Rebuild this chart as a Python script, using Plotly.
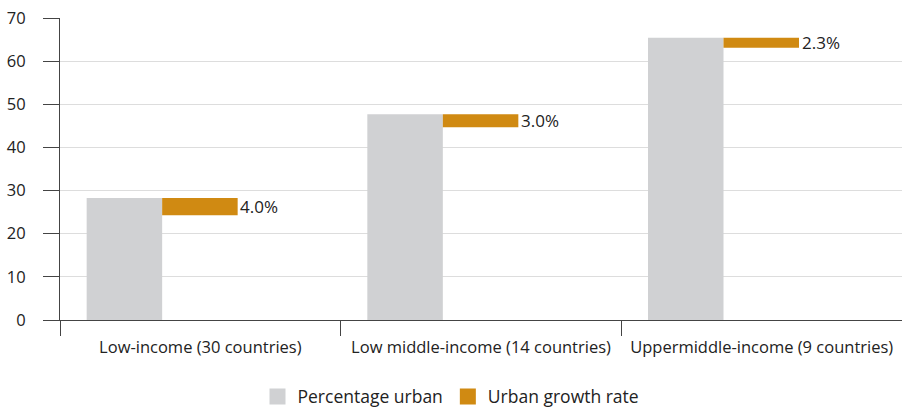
import plotly.graph_objects as go

categories = ["Low-income (30 countries)", "Low middle-income (14 countries)", "Uppermiddle-income (9 countries)"]
pct_urban = [28.3, 47.7, 65.4]
growth_rate = [4.0, 3.0, 2.3]
y_ticks = [0, 10, 20, 30, 40, 50, 60, 70]

GRAY = "#D0D1D3"
ORANGE = "#D08A12"
FONT = "Open Sans"
TXT = "#222222"

fig = go.Figure()
fig.add_trace(go.Bar(
    x=categories, y=pct_urban, name="Percentage urban",
    marker=dict(color=GRAY, line=dict(width=0)),
    width=0.269, offset=-0.405, showlegend=False,
))
fig.add_trace(go.Bar(
    x=categories, y=growth_rate,
    base=[u - g for u, g in zip(pct_urban, growth_rate)],
    name="Urban growth rate",
    marker=dict(color=ORANGE, line=dict(width=0)),
    width=0.269, offset=-0.136, showlegend=False,
))
# legend entries (square swatches)
for name, col in [("Percentage urban", GRAY), ("Urban growth rate", ORANGE)]:
    fig.add_trace(go.Scatter(
        x=[None], y=[None], mode="markers", name=name,
        marker=dict(symbol="square", size=16, color=col, line=dict(width=0)),
        showlegend=True,
    ))

for c, u, g in zip(categories, pct_urban, growth_rate):
    fig.add_annotation(
        x=c, y=u - g / 2, xref="x", yref="y",
        text=f"{g:.1f}%", showarrow=False,
        xanchor="left", yanchor="middle", xshift=38,
        font=dict(family=FONT, size=17, color=TXT),
    )

fig.update_layout(
    width=902, height=409,
    margin=dict(l=60, r=0, t=18, b=89),
    paper_bgcolor="white", plot_bgcolor="white",
    barmode="overlay",
    font=dict(family=FONT, size=16, color=TXT),
    showlegend=True,
    legend=dict(
        orientation="h", xref="container", yref="container",
        x=0.5, xanchor="center", y=0.03, yanchor="middle",
        font=dict(family=FONT, size=17.5, color=TXT),
        itemwidth=30, traceorder="normal", itemsizing="trace",
    ),
    xaxis=dict(
        type="category", showgrid=False, automargin=False,
        showline=True, linecolor="#444444", linewidth=1,
        ticks="outside", tickson="boundaries", ticklen=15,
        tickcolor="#444444", tickwidth=1,
        tickfont=dict(family=FONT, size=16.5, color=TXT),
        ticklabelstandoff=12,
        range=[-0.5, 2.5],
    ),
    yaxis=dict(
        range=[0, 70], tickvals=y_ticks, automargin=False,
        showgrid=True, gridcolor="#DDDDDD", gridwidth=1,
        showline=True, linecolor="#444444", linewidth=1,
        ticks="outside", ticklen=16, tickcolor="#444444", tickwidth=1,
        tickfont=dict(family=FONT, size=16.5, color=TXT),
        ticklabelstandoff=14,
        zeroline=False,
    ),
)

fig.write_html(
    "out.html",
    config={"displayModeBar": False},
    post_script="document.body.style.margin='0';document.body.style.padding='0';",
)
